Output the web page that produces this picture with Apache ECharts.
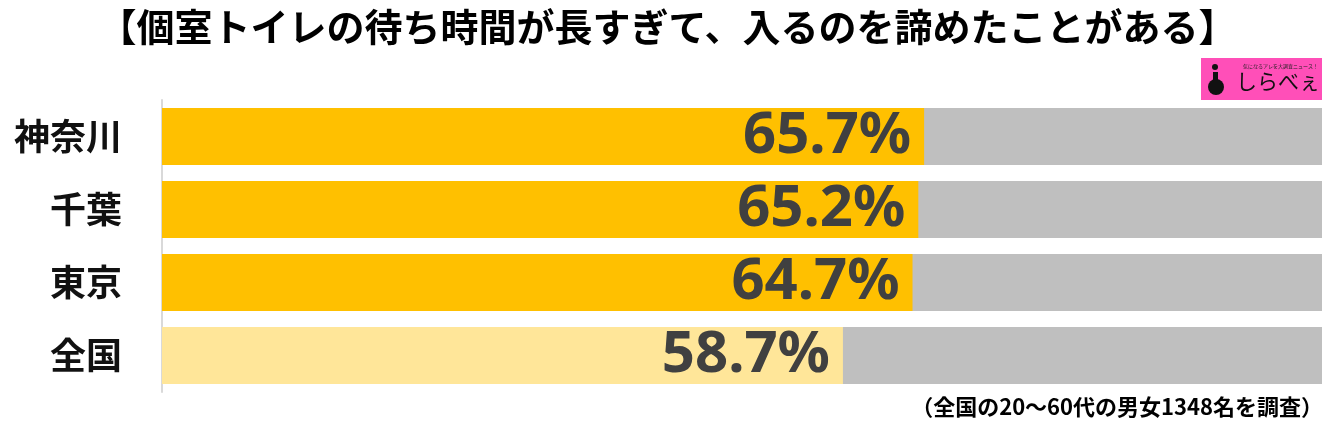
<!DOCTYPE html>
<html>
<head>
<meta charset="utf-8">
<style>
html,body{margin:0;padding:0;background:#fff;}
#chart{width:1335px;height:422px;}
</style>
<script src="https://cdn.jsdelivr.net/npm/echarts@6/dist/echarts.min.js"></script>
</head>
<body>
<div id="chart"></div>
<script>
const categories = ['神奈川', '千葉', '東京', '全国'];
const values = [65.7, 65.2, 64.7, 58.7];
const titleText = '【個室トイレの待ち時間が長すぎて、入るのを諦めたことがある】';
const noteText = '（全国の20～60代の男女1348名を調査）';

const barColors = ['#ffc000', '#ffc000', '#ffc000', '#ffe699'];
const fontCJK = '"Noto Sans CJK JP", "Noto Sans", sans-serif';

const chart = echarts.init(document.getElementById('chart'));
chart.setOption({
  animation: false,
  backgroundColor: '#ffffff',
  title: {
    text: titleText,
    left: 'center',
    top: 3,
    textStyle: { fontFamily: fontCJK, fontSize: 38, fontWeight: 'bold', color: '#000' }
  },
  grid: { left: 162, right: 13, top: 100, bottom: 30, containLabel: false },
  xAxis: {
    type: 'value', min: 0, max: 100,
    show: false
  },
  yAxis: {
    type: 'category',
    data: categories,
    inverse: true,
    axisLine: { show: true, lineStyle: { color: '#d9d9d9', width: 2 } },
    axisTick: { show: false },
    axisLabel: {
      margin: 40,
      fontFamily: fontCJK, fontSize: 36, fontWeight: 'bold', color: '#111'
    }
  },
  series: [{
    type: 'bar',
    data: values.map((v, i) => ({ value: v, itemStyle: { color: barColors[i] } })),
    barCategoryGap: '22%',
    showBackground: true,
    backgroundStyle: { color: '#bfbfbf' },
    label: {
      show: true,
      position: 'insideRight',
      distance: 13,
      formatter: p => p.value.toFixed(1) + '%',
      fontFamily: '"Noto Sans", sans-serif',
      fontSize: 58, fontWeight: 'bold', color: '#404040'
    }
  }],
  graphic: [
    {
      type: 'text', right: 12, bottom: 4,
      style: { text: noteText, fontFamily: fontCJK, fontSize: 22, fontWeight: 'bold', fill: '#000' }
    },
    {
      type: 'group', left: 1201, top: 58,
      children: [
        { type: 'rect', shape: { x: 0, y: 0, width: 121, height: 42 }, style: { fill: '#ff4fb8' } },
        { type: 'text', style: { x: 42, y: 6, text: '気になるアレを大調査ニュース！', fontSize: 5, fontFamily: fontCJK, fill: '#222' } },
        { type: 'circle', shape: { cx: 15, cy: 29, r: 8 }, style: { fill: '#111' } },
        { type: 'rect', shape: { x: 12, y: 14, width: 5, height: 10 }, style: { fill: '#111' } },
        { type: 'circle', shape: { cx: 14, cy: 9, r: 3 }, style: { fill: '#111' } },
        { type: 'text', style: { x: 35, y: 13, text: 'しらべぇ', fontSize: 21, fontFamily: fontCJK, fontWeight: 'normal', fill: '#111' } }
      ]
    }
  ]
});
</script>
</body>
</html>
